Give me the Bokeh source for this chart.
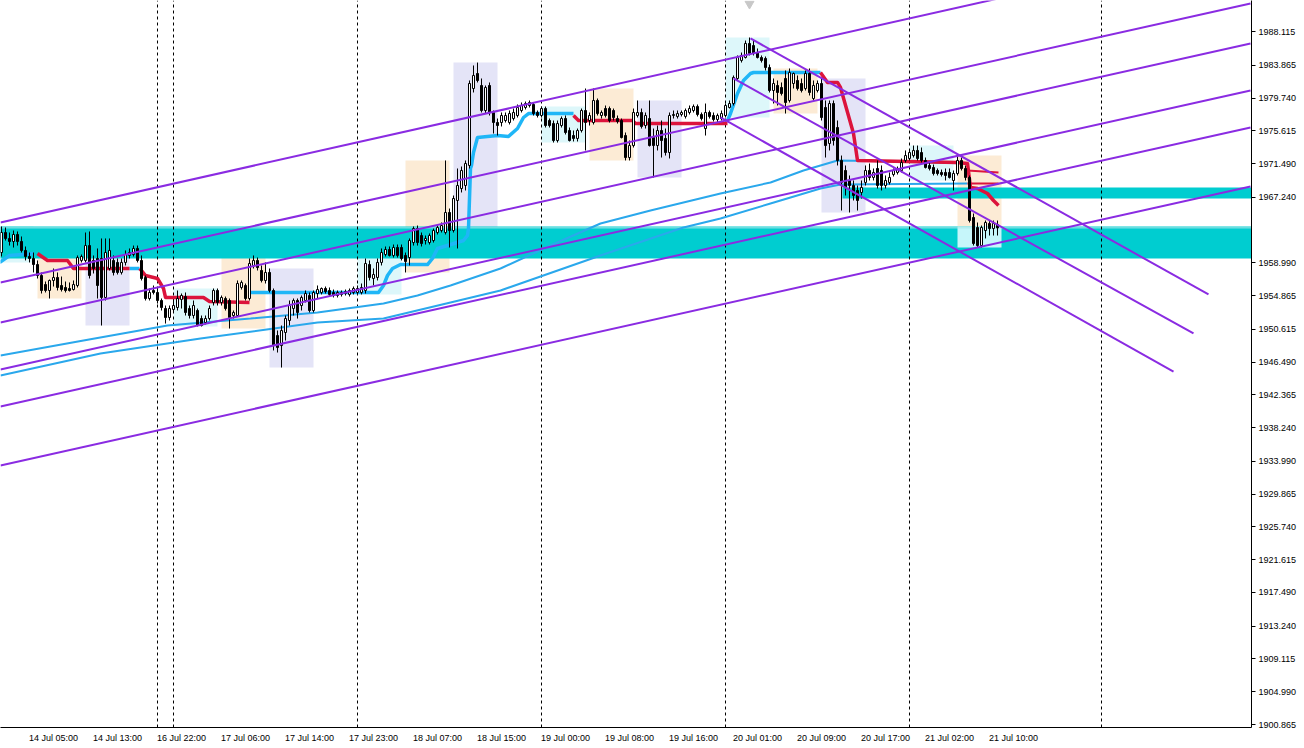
import numpy as np
from bokeh.plotting import figure
from bokeh.models import Range1d, FixedTicker, Label, PrintfTickFormatter
from bokeh.embed import file_html
from bokeh.resources import INLINE

# ---------------- data (XAUUSD, M30 bars; bar index 0 = 16 Jul 22:00) ----------------
FIRST_BAR = -39

opens = [
    1960.29, 1962.81, 1962.06, 1961.68, 1962.56, 1961.68, 1960.55, 1959.79, 1959.54, 1958.78,
    1957.40, 1956.26, 1955.51, 1956.77, 1957.15, 1956.14, 1955.89, 1955.76, 1955.63, 1956.14,
    1959.29, 1959.29, 1961.17, 1959.29, 1959.54, 1959.54, 1954.63, 1958.28, 1959.29, 1959.04,
    1957.78, 1959.04, 1959.92, 1960.04, 1960.80, 1959.29, 1957.15, 1954.50, 1955.51, 1955.26,
    1954.25, 1953.24, 1952.11, 1953.12, 1953.37, 1954.38, 1954.75, 1953.24, 1952.36, 1952.99,
    1951.98, 1951.48, 1951.98, 1954.00, 1955.51, 1954.00, 1954.50, 1954.25, 1952.36, 1952.36,
    1955.89, 1956.14, 1954.50, 1958.66, 1959.29, 1958.03, 1956.77, 1957.78, 1955.51, 1949.84,
    1948.58, 1950.22, 1951.73, 1953.24, 1954.25, 1953.62, 1954.25, 1954.88, 1952.99, 1955.13,
    1955.26, 1955.76, 1955.51, 1955.26, 1954.88, 1955.01, 1955.13, 1955.01, 1955.26, 1955.26,
    1955.26, 1955.51, 1958.78, 1957.02, 1957.15, 1959.04, 1960.04, 1960.67, 1959.92, 1960.92,
    1960.92, 1959.92, 1959.66, 1961.55, 1963.31, 1962.43, 1961.80, 1961.55, 1961.80, 1962.81,
    1963.06, 1962.81, 1965.33, 1963.06, 1966.84, 1968.35, 1968.73, 1971.25, 1980.94, 1982.83,
    1981.32, 1978.17, 1981.32, 1977.92, 1976.66, 1976.66, 1976.91, 1976.66, 1977.16, 1977.54,
    1978.17, 1978.55, 1978.80, 1978.93, 1977.92, 1977.54, 1978.42, 1976.91, 1976.53, 1974.39,
    1976.28, 1977.16, 1975.65, 1975.02, 1974.65, 1975.65, 1978.17, 1976.91, 1976.66, 1979.43,
    1977.54, 1978.42, 1978.42, 1978.17, 1977.16, 1976.91, 1975.02, 1972.25, 1973.76, 1977.54,
    1977.92, 1976.28, 1977.16, 1974.77, 1973.76, 1975.65, 1974.65, 1972.88, 1977.54, 1977.42,
    1977.67, 1977.42, 1977.92, 1978.17, 1978.67, 1977.67, 1975.90, 1977.92, 1977.54, 1977.04,
    1977.16, 1977.54, 1978.55, 1979.05, 1982.20, 1984.47, 1984.84, 1986.61, 1986.35, 1985.47,
    1984.84, 1984.72, 1983.58, 1980.69, 1981.32, 1981.07, 1982.20, 1979.43, 1981.57, 1981.95,
    1981.57, 1980.94, 1982.83, 1979.68, 1980.69, 1981.57, 1978.55, 1974.02, 1979.05, 1976.03,
    1971.88, 1970.62, 1969.36, 1968.73, 1968.10, 1967.85, 1969.11, 1970.62, 1969.74, 1970.87,
    1970.62, 1968.73, 1969.11, 1970.11, 1970.37, 1970.62, 1971.88, 1972.13, 1972.50, 1973.14,
    1972.88, 1971.88, 1971.25, 1971.00, 1970.62, 1970.37, 1970.37, 1970.37, 1969.36, 1970.24,
    1971.88, 1970.87, 1969.74, 1964.70, 1963.44, 1961.17, 1963.06, 1963.94, 1963.31, 1963.82,
]
highs = [
    1963.57, 1963.44, 1962.81, 1963.06, 1962.94, 1962.31, 1961.05, 1960.29, 1960.29, 1959.29,
    1957.78, 1956.64, 1956.89, 1958.28, 1957.78, 1957.27, 1956.64, 1956.52, 1956.77, 1959.92,
    1960.04, 1962.81, 1962.94, 1959.92, 1960.80, 1962.06, 1962.06, 1962.06, 1959.92, 1959.54,
    1959.54, 1960.55, 1960.80, 1961.17, 1961.17, 1959.92, 1957.40, 1955.76, 1956.14, 1955.76,
    1954.50, 1953.62, 1953.62, 1954.25, 1955.51, 1955.13, 1955.26, 1953.62, 1954.25, 1953.24,
    1952.36, 1952.36, 1953.62, 1955.76, 1955.76, 1954.88, 1954.75, 1954.50, 1952.99, 1956.77,
    1956.77, 1956.39, 1959.54, 1959.92, 1959.66, 1958.66, 1959.04, 1958.28, 1955.76, 1950.47,
    1951.10, 1952.36, 1954.25, 1954.50, 1954.50, 1954.88, 1955.51, 1955.26, 1955.51, 1956.14,
    1955.89, 1956.01, 1955.89, 1955.63, 1955.51, 1955.51, 1955.63, 1955.76, 1956.01, 1956.14,
    1956.39, 1959.54, 1959.29, 1958.28, 1959.54, 1960.80, 1961.05, 1961.05, 1961.30, 1961.30,
    1961.30, 1960.29, 1962.06, 1963.57, 1963.69, 1962.81, 1962.43, 1962.69, 1963.31, 1963.69,
    1964.07, 1971.88, 1965.83, 1967.47, 1970.87, 1971.12, 1971.88, 1981.95, 1983.84, 1984.21,
    1982.20, 1981.32, 1981.70, 1978.17, 1977.16, 1977.92, 1977.92, 1978.17, 1978.42, 1978.93,
    1979.18, 1979.30, 1979.43, 1979.18, 1978.17, 1978.67, 1978.67, 1977.16, 1976.91, 1976.91,
    1977.42, 1977.54, 1976.03, 1975.65, 1975.90, 1978.42, 1980.94, 1977.92, 1980.94, 1979.68,
    1978.17, 1978.80, 1978.67, 1978.42, 1977.54, 1977.16, 1975.40, 1974.39, 1978.42, 1979.43,
    1978.42, 1977.92, 1979.43, 1975.90, 1976.28, 1976.91, 1975.90, 1977.92, 1978.17, 1978.17,
    1978.17, 1978.42, 1978.80, 1978.93, 1978.93, 1977.92, 1979.05, 1978.17, 1977.92, 1977.79,
    1978.17, 1979.05, 1979.43, 1982.58, 1985.10, 1985.47, 1986.98, 1987.36, 1986.98, 1985.98,
    1985.10, 1984.97, 1983.96, 1982.20, 1981.95, 1981.70, 1983.21, 1983.46, 1982.95, 1982.58,
    1982.20, 1983.21, 1983.46, 1981.95, 1981.95, 1982.20, 1979.43, 1979.43, 1979.43, 1976.91,
    1972.50, 1971.25, 1969.99, 1969.36, 1968.73, 1969.36, 1971.25, 1971.50, 1970.87, 1971.88,
    1971.25, 1969.99, 1970.37, 1970.87, 1971.12, 1972.13, 1973.14, 1973.14, 1973.76, 1973.76,
    1973.51, 1972.25, 1971.62, 1971.37, 1970.87, 1970.74, 1970.87, 1970.87, 1970.62, 1972.50,
    1972.25, 1971.25, 1969.99, 1965.20, 1964.07, 1963.69, 1964.32, 1964.32, 1964.32, 1964.32,
]
lows = [
    1959.79, 1961.80, 1961.17, 1960.92, 1961.17, 1960.29, 1959.29, 1959.04, 1957.78, 1957.02,
    1955.13, 1955.26, 1954.50, 1956.01, 1955.51, 1955.38, 1955.26, 1955.38, 1955.51, 1955.89,
    1959.04, 1959.04, 1957.02, 1957.65, 1954.50, 1951.10, 1954.25, 1958.03, 1957.40, 1957.52,
    1957.52, 1958.66, 1959.54, 1959.79, 1959.04, 1956.77, 1954.25, 1954.25, 1955.01, 1953.87,
    1952.99, 1951.35, 1951.73, 1952.74, 1952.99, 1953.24, 1952.36, 1951.98, 1951.98, 1950.98,
    1950.98, 1951.23, 1951.73, 1953.62, 1953.62, 1953.62, 1952.99, 1950.72, 1951.98, 1952.24,
    1955.63, 1954.25, 1954.25, 1958.28, 1958.03, 1956.52, 1956.39, 1955.26, 1947.96, 1947.70,
    1945.81, 1949.21, 1951.10, 1952.36, 1951.98, 1952.99, 1954.00, 1952.74, 1952.74, 1954.50,
    1955.01, 1955.13, 1954.75, 1954.63, 1954.63, 1954.75, 1954.88, 1954.75, 1955.01, 1955.01,
    1955.01, 1955.13, 1956.77, 1956.14, 1956.77, 1958.66, 1959.79, 1959.79, 1959.66, 1959.66,
    1959.29, 1957.78, 1958.66, 1961.17, 1961.17, 1961.05, 1961.30, 1961.30, 1961.55, 1962.56,
    1962.81, 1962.56, 1960.92, 1962.81, 1960.80, 1967.85, 1968.10, 1970.87, 1980.44, 1981.70,
    1977.92, 1977.79, 1977.54, 1975.27, 1975.02, 1976.16, 1976.66, 1976.41, 1976.91, 1977.29,
    1977.92, 1978.30, 1978.55, 1977.54, 1977.29, 1977.29, 1976.03, 1976.03, 1974.14, 1974.14,
    1976.03, 1975.15, 1974.27, 1974.27, 1974.27, 1975.40, 1973.14, 1976.28, 1976.41, 1977.54,
    1977.16, 1977.29, 1976.66, 1976.91, 1976.53, 1974.65, 1971.88, 1971.88, 1973.51, 1977.29,
    1975.90, 1975.90, 1973.64, 1969.74, 1973.14, 1972.25, 1972.50, 1972.13, 1977.16, 1977.16,
    1977.42, 1977.16, 1977.67, 1977.92, 1977.42, 1976.91, 1975.02, 1977.16, 1976.79, 1976.66,
    1976.91, 1977.29, 1978.42, 1978.80, 1981.95, 1984.21, 1984.72, 1985.10, 1985.10, 1984.72,
    1984.21, 1983.21, 1980.44, 1979.05, 1978.80, 1980.06, 1977.79, 1979.18, 1980.94, 1980.69,
    1980.44, 1980.69, 1980.06, 1979.43, 1980.44, 1976.91, 1972.25, 1973.14, 1973.76, 1971.25,
    1965.58, 1967.47, 1965.33, 1966.84, 1965.58, 1967.09, 1968.73, 1969.36, 1969.36, 1968.35,
    1968.10, 1968.35, 1968.85, 1969.86, 1970.11, 1970.37, 1971.62, 1971.88, 1972.25, 1971.88,
    1971.62, 1970.87, 1970.62, 1969.99, 1969.99, 1969.86, 1969.36, 1969.61, 1968.10, 1969.99,
    1970.62, 1969.36, 1964.07, 1961.17, 1960.92, 1960.92, 1962.06, 1962.43, 1962.43, 1962.43,
]
closes = [
    1962.81, 1962.06, 1961.68, 1962.56, 1961.68, 1960.55, 1959.79, 1959.54, 1958.78, 1957.40,
    1955.51, 1955.51, 1956.77, 1957.15, 1955.89, 1955.63, 1955.51, 1955.51, 1956.26, 1959.66,
    1959.79, 1961.17, 1957.40, 1958.28, 1956.14, 1954.63, 1960.29, 1960.55, 1957.78, 1957.78,
    1959.04, 1960.04, 1960.29, 1960.80, 1959.29, 1957.02, 1954.50, 1955.26, 1955.26, 1954.25,
    1953.37, 1952.11, 1953.24, 1953.62, 1954.50, 1954.88, 1952.74, 1952.36, 1953.62, 1951.10,
    1951.10, 1951.98, 1953.24, 1955.51, 1954.00, 1954.63, 1953.24, 1952.11, 1952.74, 1956.39,
    1956.52, 1954.50, 1958.91, 1959.29, 1958.40, 1956.77, 1957.78, 1955.51, 1948.58, 1948.33,
    1950.47, 1951.98, 1953.62, 1954.25, 1952.74, 1954.63, 1955.13, 1952.99, 1955.26, 1955.63,
    1955.76, 1955.38, 1955.01, 1954.88, 1955.26, 1955.26, 1955.38, 1955.51, 1955.76, 1955.76,
    1955.89, 1958.91, 1957.15, 1957.52, 1959.04, 1960.29, 1960.67, 1959.92, 1960.92, 1959.92,
    1959.54, 1959.16, 1961.80, 1963.31, 1961.55, 1961.43, 1962.06, 1962.43, 1963.06, 1963.44,
    1963.69, 1965.33, 1963.06, 1967.09, 1968.73, 1970.62, 1971.50, 1981.57, 1982.58, 1981.95,
    1978.17, 1981.07, 1977.92, 1976.66, 1976.28, 1977.54, 1977.54, 1977.79, 1977.92, 1978.55,
    1978.80, 1979.05, 1979.18, 1977.79, 1977.54, 1978.42, 1976.28, 1976.28, 1974.39, 1976.53,
    1977.16, 1975.40, 1974.39, 1974.65, 1975.65, 1978.17, 1976.66, 1977.54, 1979.43, 1977.79,
    1977.92, 1977.54, 1976.91, 1977.29, 1976.79, 1974.77, 1972.25, 1973.76, 1977.92, 1977.92,
    1976.16, 1977.54, 1973.76, 1973.76, 1975.65, 1974.39, 1972.88, 1977.54, 1977.67, 1977.79,
    1977.92, 1978.17, 1978.42, 1978.67, 1977.67, 1977.16, 1977.92, 1977.42, 1977.04, 1977.54,
    1977.79, 1978.80, 1979.05, 1982.33, 1984.84, 1985.10, 1986.61, 1985.35, 1985.35, 1984.84,
    1984.47, 1983.58, 1980.69, 1981.57, 1980.44, 1980.31, 1979.18, 1982.95, 1982.83, 1980.94,
    1980.69, 1982.83, 1980.44, 1981.32, 1981.57, 1977.29, 1973.76, 1979.05, 1974.39, 1971.88,
    1969.11, 1968.48, 1968.73, 1967.47, 1966.84, 1968.48, 1970.62, 1969.74, 1970.37, 1968.73,
    1968.73, 1969.36, 1969.74, 1970.62, 1970.87, 1971.62, 1972.50, 1972.88, 1973.14, 1972.13,
    1971.88, 1971.00, 1970.87, 1970.24, 1970.24, 1970.11, 1969.99, 1969.74, 1970.24, 1971.88,
    1970.87, 1969.74, 1964.32, 1961.43, 1961.17, 1963.44, 1964.07, 1963.31, 1963.94, 1963.395,
]

time_label_bars = [-32, -16, 0, 16, 32, 48, 64, 80, 96, 112, 128, 144, 160, 176, 192, 208]
time_labels = ["14 Jul 05:00", "14 Jul 13:00", "16 Jul 22:00", "17 Jul 06:00", "17 Jul 14:00",
               "17 Jul 23:00", "18 Jul 07:00", "18 Jul 15:00", "19 Jul 00:00", "19 Jul 08:00",
               "19 Jul 16:00", "20 Jul 01:00", "20 Jul 09:00", "20 Jul 17:00", "21 Jul 02:00",
               "21 Jul 10:00"]

price_ticks = [1900.865, 1904.990, 1909.115, 1913.240, 1917.490, 1921.615, 1925.740, 1929.865,
               1933.990, 1938.240, 1942.365, 1946.490, 1950.615, 1954.865, 1958.990, 1967.240,
               1971.490, 1975.615, 1979.740, 1983.865, 1988.115]
current_price = 1963.395

day_separators = [0, 4, 50, 96, 142, 188, 236]

# session boxes: (first bar, kind) -- each spans 11 bars
session_starts = [-42, -30, -18, 4, 16, 28, 50, 62, 74, 96, 108, 120, 142, 154, 166, 188, 200]
session_kinds = ["asia", "london", "ny"] * 5 + ["asia", "london"]

# support / resistance zones (top, bottom, first bar)
zone_tops = [1963.57, 1968.48]
zone_bottoms = [1959.54, 1967.09]
zone_starts = [-60, 171.25]

# up-trend channel lines (bar, price) -> (bar, price)
up_lines = [
    ((-39.25, 1964.07), (273.25, 1999.40)),
    ((-39.25, 1956.52), (273.25, 1991.64)),
    ((-39.25, 1951.48), (273.25, 1986.61)),
    ((-39.25, 1945.56), (273.25, 1980.69)),
    ((-39.25, 1940.91), (273.25, 1976.03)),
    ((-39.25, 1933.48), (273.25, 1968.60)),
]
down_lines = [
    ((148.25, 1987.24), (262.75, 1955.01)),
    ((144.0, 1982.20), (259.0, 1950.10)),
    ((140.75, 1977.29), (254.0, 1945.31)),
]

# moving averages (vertex bar, value)
ma1_bars = [-39.25, -18.5, 2.5, 23.25, 40, 56.5, 65, 73.25, 85.75, 98.25, 110.75, 123.25, 140.75,
            153.25, 161.5, 170, 185.75, 202.5]
ma1_vals = [1947.33, 1949.21, 1951.10, 1951.98, 1952.74, 1953.87, 1954.88, 1956.14, 1958.28,
            1961.17, 1963.94, 1965.58, 1967.72, 1969.11, 1970.62, 1971.88, 1971.75, 1971.50]
ma2_bars = [-39.25, -14.25, 10.75, 40, 56.5, 73.25, 85.75, 110.75, 131.5, 140.75, 153.25,
            165.75, 170.75, 202.5]
ma2_vals = [1944.81, 1947.58, 1949.47, 1951.48, 1951.98, 1954.00, 1955.51, 1959.92, 1963.44,
            1964.57, 1966.46, 1968.35, 1968.85, 1968.98]
ma_red_bars = [[202.5, 210.25], [202.5, 210.25]]
ma_red_vals = [[1970.62, 1970.37], [1968.98, 1968.98]]

# trailing stop line segments
st_blue_bars = [
    [-39.5, -37, -31],
    [-7, -4.5],
    [23, 55.25, 56.5, 57.5, 58.75, 60.75, 67.5, 68.75, 70, 72.5, 76.5, 77.5, 77.75, 78.25, 78.5,
     79, 80, 85, 87.75, 90, 91.5, 92.75, 104],
    [142.5, 143.25, 145, 146.5, 148.25, 149, 165.75],
]
st_blue_vals = [
    [1959.04, 1959.92, 1960.17],
    [1958.28, 1958.28],
    [1955.26, 1955.26, 1956.14, 1957.40, 1958.28, 1958.78, 1958.78, 1959.54, 1960.80, 1961.17,
     1961.80, 1962.43, 1963.31, 1970.87, 1971.25, 1972.88, 1974.77, 1975.02, 1974.90, 1975.90,
     1977.29, 1977.79, 1977.79],
    [1976.91, 1977.79, 1980.31, 1981.95, 1982.83, 1982.95, 1982.95],
]
st_red_bars = [
    [-30, -27.5, -22.5, -21, -7],
    [-4.5, -4, -3, 0, 1.5, 2, 11.5, 13, 23],
    [104, 105.25, 118.75, 119.5, 142.5],
    [165.75, 167.5, 170, 170.75, 174, 175, 200, 202.5, 203.25, 205, 207.5, 209, 210.25],
]
st_red_vals = [
    [1960.17, 1959.29, 1959.29, 1958.28, 1958.28],
    [1958.28, 1958.03, 1957.40, 1957.02, 1955.76, 1954.63, 1954.63, 1954.12, 1954.00],
    [1977.54, 1976.91, 1976.91, 1976.53, 1976.53],
    [1982.95, 1981.70, 1981.70, 1981.07, 1975.27, 1971.88, 1971.62, 1971.50, 1968.48, 1968.35,
     1967.72, 1966.84, 1966.21],
]

# ---------------- styling ----------------
FONT = "Liberation Sans"
C_ZONE = "#00CDD0"
C_ZONE_LIGHT = "#C6F6FA"
C_SESSION = {"asia": "#DDF7FA", "london": "#FCEBD5", "ny": "#E4E4F7"}
C_PURPLE = "#8A2BE2"
C_ST_BLUE = "#1FB6F7"
C_MA = "#2AA8EC"
C_RED = "#DC143C"

X0, X1 = -39.25, 273.5
Y0, Y1 = 1900.49, 1992.02

p = figure(frame_width=1251, frame_height=727,
           x_range=Range1d(X0, X1), y_range=Range1d(Y0, Y1),
           y_axis_location="right", toolbar_location=None, output_backend="svg",
           min_border_left=0, min_border_top=0, min_border_right=53, min_border_bottom=21,
           outline_line_color=None, background_fill_color="white", border_fill_color="white")
p.grid.visible = False

bars = np.arange(FIRST_BAR, FIRST_BAR + len(opens))
o = np.array(opens); h = np.array(highs); l = np.array(lows); c = np.array(closes)
assert len(o) == len(h) == len(l) == len(c) == 250

# session boxes
bl, br, bt, bb, bc = [], [], [], [], []
for s, kind in zip(session_starts, session_kinds):
    m = (bars >= s) & (bars <= s + 10)
    if not m.any():
        continue
    bl.append(s); br.append(s + 11)
    bt.append(h[m].max()); bb.append(l[m].min())
    bc.append(C_SESSION[kind])
p.quad(left=bl, right=br, top=bt, bottom=bb, fill_color=bc, line_color=None)

# zones
p.quad(left=zone_starts, right=[X1 + 10] * 2, top=zone_tops, bottom=zone_bottoms,
       fill_color=C_ZONE, line_color=None)
# current session overlapping the zone appears lighter
last_s = session_starts[-1]
m = (bars >= last_s) & (bars <= last_s + 10)
p.quad(left=[last_s], right=[last_s + 11], top=[zone_tops[0]],
       bottom=[max(l[m].min(), zone_bottoms[0])], fill_color=C_ZONE_LIGHT, line_color=None)

# bid line
p.segment(x0=[X0], x1=[X1], y0=[current_price], y1=[current_price], line_color="#A9E6EA",
          line_width=1)

# day separators
p.segment(x0=day_separators, x1=day_separators, y0=[Y0] * len(day_separators),
          y1=[Y1] * len(day_separators), line_color="black", line_dash="3 3", line_width=1)

# moving averages
p.line(ma1_bars, ma1_vals, line_color=C_MA, line_width=2)
p.line(ma2_bars, ma2_vals, line_color=C_MA, line_width=2)
p.multi_line(ma_red_bars, ma_red_vals, line_color=C_RED, line_width=2)

# trailing stop
p.multi_line(st_blue_bars, st_blue_vals, line_color=C_ST_BLUE, line_width=3.5, line_join="round")
p.multi_line(st_red_bars, st_red_vals, line_color=C_RED, line_width=3.5, line_join="round")

# candles
up = c >= o
p.segment(x0=bars, x1=bars, y0=l, y1=h, line_color="black", line_width=1)
p.vbar(x=bars[up], width=0.5, top=c[up], bottom=o[up], fill_color="white", line_color="black",
       line_width=1)
p.vbar(x=bars[~up], width=0.5, top=o[~up], bottom=c[~up], fill_color="black", line_color="black",
       line_width=1)

# trend lines
p.multi_line([[a[0], b[0]] for a, b in up_lines], [[a[1], b[1]] for a, b in up_lines],
             line_color=C_PURPLE, line_width=2)
p.multi_line([[a[0], b[0]] for a, b in down_lines], [[a[1], b[1]] for a, b in down_lines],
             line_color=C_PURPLE, line_width=2)

# small arrow marker at the top
p.scatter(x=[148], y=[1991.6], marker="inverted_triangle", size=9, fill_color="#C8C8C8",
          line_color="#C8C8C8")

# axes
xa = p.xaxis[0]
xa.ticker = FixedTicker(ticks=[b + 6 for b in time_label_bars], minor_ticks=[])
xa.major_label_overrides = {b + 6: t for b, t in zip(time_label_bars, time_labels)}
xa.major_tick_out = 0
xa.major_tick_in = 0
xa.minor_tick_out = 0
xa.minor_tick_in = 0
xa.axis_line_color = "black"
xa.major_label_text_font = FONT
xa.major_label_text_font_size = "9px"
xa.major_label_text_color = "black"
xa.major_label_standoff = 5

ya = p.yaxis[0]
ya.ticker = FixedTicker(ticks=price_ticks, minor_ticks=[])
ya.formatter = PrintfTickFormatter(format="%.3f")
ya.major_tick_out = 4
ya.major_tick_in = 0
ya.minor_tick_out = 0
ya.minor_tick_in = 0
ya.axis_line_color = "black"
ya.major_tick_line_color = "black"
ya.major_label_text_font = FONT
ya.major_label_text_font_size = "9px"
ya.major_label_text_color = "black"
ya.major_label_standoff = 3

lab = Label(x=X1 + 0.4, y=current_price, text=f"{current_price:.3f}", text_font=FONT,
            text_font_size="9px", text_color="white", background_fill_color="black",
            text_align="left", text_baseline="middle", padding=2)
p.add_layout(lab)

html = file_html(p, INLINE, title="XAUUSD M30")
html = html.replace("<head>", "<head><style>html,body{margin:0;padding:0;overflow:hidden;}</style>", 1)
open("out.html", "w").write(html)
